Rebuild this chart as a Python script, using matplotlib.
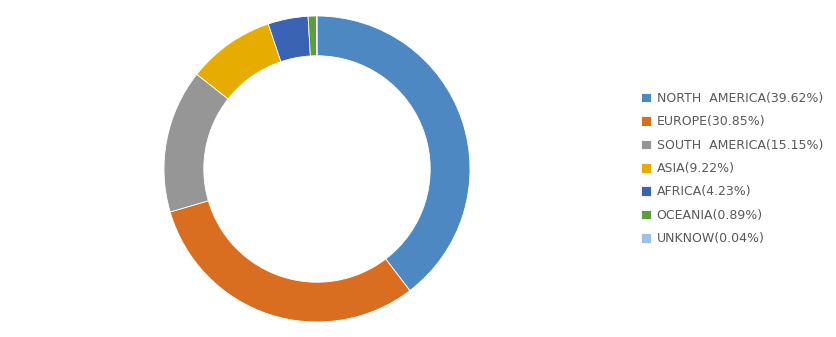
import matplotlib.pyplot as plt

regions = ["NORTH AMERICA", "EUROPE", "SOUTH AMERICA", "ASIA", "AFRICA", "OCEANIA", "UNKNOW"]
shares = [39.62, 30.85, 15.15, 9.22, 4.23, 0.89, 0.04]
colors = ["#4E88C2", "#DA6E20", "#969696", "#E6AD00", "#3A63B5", "#5E9E3A", "#9DC0E8"]

plt.rcParams["font.family"] = ["DejaVu Sans"]

fig = plt.figure(figsize=(8.37, 3.37), dpi=100)
ax = fig.add_axes([164 / 837, 15 / 337, 306 / 837, 306 / 337])
wedges, _ = ax.pie(shares, colors=colors, startangle=90, counterclock=False,
                   radius=1, wedgeprops=dict(width=0.26, edgecolor="white", linewidth=0.6))
ax.set_xlim(-1, 1)
ax.set_ylim(-1, 1)
ax.set_aspect("equal")
ax.axis("off")

# label text uses a double space inside two-word names, like the original
labels = ["%s(%.2f%%)" % (r.replace(" ", "  "), s) for r, s in zip(regions, shares)]
leg = fig.legend(wedges, labels, loc="upper left", bbox_to_anchor=(636 / 837, 1 - 87 / 337),
                 frameon=False, fontsize=9, handlelength=0.8, handleheight=0.8,
                 handletextpad=0.45, labelspacing=0.83, borderaxespad=0)
for t in leg.get_texts():
    t.set_color("#595959")

fig.savefig("out.png", dpi=100)
